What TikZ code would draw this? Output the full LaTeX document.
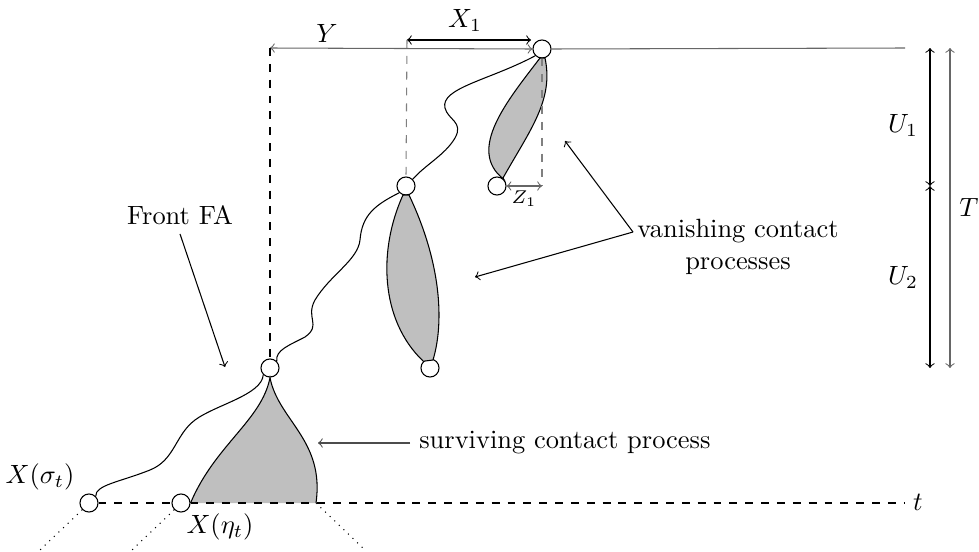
\documentclass[tikz,border=0pt]{standalone}
\usetikzlibrary{positioning}
\tikzset{
  site/.style={circle,draw=black,fill=white,inner sep=0pt,minimum size=0.24cm},
  blob/.style={draw=black,fill=black!25},
  guide/.style={dashed,black!50},
}
\begin{document}
\begin{tikzpicture}[x=0.0133cm,y=-0.0133cm]
\useasboundingbox (0,0) rectangle (979,552);
% sites
\node[site] (A) at (542,49) {};
\node[site] (B) at (406,186) {};
\node[site] (C) at (497,186) {};
\node[site] (D) at (430,368) {};
\node[site] (E) at (270,368) {};
\node[site] (F) at (89,503) {};
\node[site] (G) at (181,503) {};
\coordinate (Ytop) at (270,48);
\coordinate (Xleft) at (407,40);
\coordinate (Xright) at (531,40);
\coordinate (Zend) at (542,186);
\coordinate (Tend) at (905,503);
\coordinate (Lend) at (905,48);
\coordinate (Uone) at (930,48);
\coordinate (Umid) at (930,186);
\coordinate (Utwo) at (930,368);
\coordinate (Tone) at (950,48);
\coordinate (Ttwo) at (950,368);
% contact processes
\draw[blob] (540,58) .. controls (508,100) and (466,150) .. (C.north east)
  -- (503,178) .. controls (530,130) and (554,100) .. (545,58) -- cycle;
\draw[blob] (403,195) .. controls (378,250) and (380,320) .. (D.north west)
  -- (433,360) .. controls (445,320) and (440,260) .. (409,195) -- cycle;
\fill[black!25] (G.east) .. controls (215,445) and (262,420) .. (E.south)
  .. controls (278,420) and (325,440) .. (316,503) -- cycle;
\draw (G.east) .. controls (215,445) and (262,420) .. (E.south)
  .. controls (278,420) and (325,440) .. (316,503);
% paths of the front
\draw (A.south west) .. controls (490,80) and (440,88) .. (445,108)
  .. controls (448,120) and (464,122) .. (455,138)
  .. controls (445,155) and (425,165) .. (B.north east);
\draw (B.south west) .. controls (375,205) and (362,215) .. (360,240)
  .. controls (358,260) and (330,275) .. (315,300)
  .. controls (305,318) and (322,325) .. (305,337)
  .. controls (290,345) and (275,350) .. (E.north east);
\draw (E.south west) .. controls (262,395) and (215,405) .. (195,420)
  .. controls (175,435) and (175,460) .. (150,470)
  .. controls (120,482) and (95,485) .. (F.north east);
% distances
\draw[black!60,<->] (Ytop) -- (A.west);
\draw[black!60] (A.east) -- (Lend);
\draw[<->] (Xleft) -- (Xright);
\draw[dashed] (Ytop) -- (E.north);
\draw[guide] (Xleft) -- (B.north);
\draw[guide] (A.south) -- (Zend);
\draw[black!60,<->] (C.east) -- (Zend);
\draw[dashed] (F.east) -- (G.west);
\draw[dashed] (G.east) -- (Tend);
\draw[<->] (Uone) -- (Umid);
\draw[<->] (Umid) -- (Utwo);
\draw[black!60,<->] (Tone) -- (Ttwo);
\draw[dotted] (F.south west) -- (40,550);
\draw[dotted] (G.south west) -- (132,550);
\draw[dotted] (316,503) -- (365,550);
% labels
\node (Ylab) at (327,33) {$Y$};
\node (Xlab) at (465,20) {$X_1$};
\node (Zlab) at (524,199) {$\scriptstyle Z_1$};
\node (U1lab) at (903,125) {$U_1$};
\node (U2lab) at (903,277) {$U_2$};
\node (Tlab) at (969,207) {$T$};
\node (tlab) at (918,502) {$t$};
\node (Flab) at (40,477) {$X(\sigma_t)$};
\node (Glab) at (220,527) {$X(\eta_t)$};
\node (front) at (180,215) {Front FA};
\node[align=center] (vanish) at (738,247) {vanishing contact\\processes};
\node[anchor=west] (surv) at (410,443) {surviving contact process};
\draw[->] (front.south) -- (225,367);
\draw[->] (633,232) -- (565,141);
\draw[->] (633,232) -- (475,277);
\draw[black!70,->] (surv.west) -- (318,443);
\end{tikzpicture}
\end{document}
